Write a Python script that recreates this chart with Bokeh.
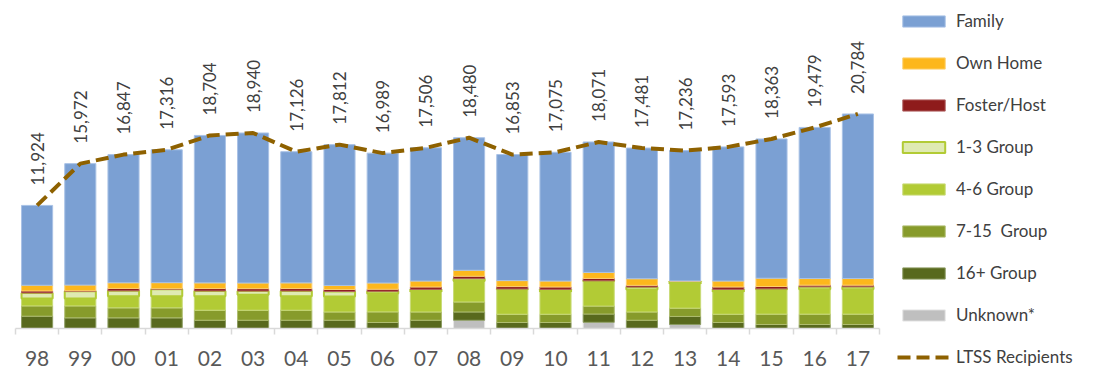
import math
from bokeh.plotting import figure
from bokeh.models import ColumnDataSource, Range1d, FixedTicker, Legend, LegendItem
from bokeh.core.properties import value
from bokeh.embed import file_html
from bokeh.resources import INLINE

years = ["98", "99", "00", "01", "02", "03", "04", "05", "06", "07",
         "08", "09", "10", "11", "12", "13", "14", "15", "16", "17"]
ltss = [11924, 15972, 16847, 17316, 18704, 18940, 17126, 17812, 16989, 17506,
        18480, 16853, 17075, 18071, 17481, 17236, 17593, 18363, 19479, 20784]
unknown = [0, 0, 0, 0, 0, 0, 0, 0, 0, 0, 800, 0, 0, 600, 0, 390, 0, 0, 0, 0]
g16 = [1190, 1030, 1030, 1030, 800, 800, 800, 800, 580, 800,
       800, 580, 580, 800, 800, 780, 580, 390, 390, 390]
g7_15 = [1000, 1160, 970, 970, 970, 970, 970, 800, 1030, 800,
         970, 800, 800, 770, 800, 800, 800, 1000, 1000, 1000]
g4_6 = [710, 710, 1130, 1130, 1350, 1510, 1350, 1510, 1770, 2000,
        2030, 2420, 2220, 2420, 2190, 2420, 2220, 2420, 2420, 2420]
g1_3 = [550, 710, 520, 680, 520, 350, 520, 480, 230, 190,
        230, 30, 190, 30, 230, 190, 190, 30, 230, 230]
foster = [190, 50, 230, 50, 230, 230, 230, 190, 190, 230,
          230, 230, 230, 230, 160, 0, 230, 230, 160, 160]
own = [550, 550, 550, 580, 550, 550, 550, 390, 610, 580,
       580, 580, 580, 580, 640, 30, 580, 800, 640, 640]

others = [a + b + c + d + e + f + g for a, b, c, d, e, f, g in
          zip(unknown, g16, g7_15, g4_6, g1_3, foster, own)]
family = [t - o for t, o in zip(ltss, others)]

xs = list(range(len(years)))
src = ColumnDataSource(dict(x=xs, unknown=unknown, g16=g16, g7_15=g7_15, g4_6=g4_6,
                            g1_3=g1_3, foster=foster, own=own, family=family,
                            ltss=ltss, lbl=[f"{v:,}" for v in ltss]))

stackers = ["unknown", "g16", "g7_15", "g4_6", "g1_3", "foster", "own", "family"]
names = ["Unknown*", "16+ Group", "7-15  Group", "4-6 Group", "1-3 Group",
         "Foster/Host", "Own Home", "Family"]
fills = ["#BFBFBF", "#58691D", "#879B2B", "#B2CB35", "#DFEAB2",
         "#8E1B1B", "#FDB71C", "#7BA0D3"]
lines = ["#E6E6E6", "#8A9A60", "#AFBD70", "#C9DB78", "#B2CB35",
         "#B06060", "#FDD070", "#A9C2E6"]
lws = [1, 1, 1, 1, 2, 1, 1, 1]

FONT = "Lato"

p = figure(frame_width=864, frame_height=320, output_backend="svg",
           toolbar_location=None,
           x_range=Range1d(-0.5, len(years) - 0.5), y_range=Range1d(0, 31000),
           min_border_left=15, min_border_right=0, min_border_top=8,
           min_border_bottom=10)

rs = p.vbar_stack(stackers, x="x", width=0.72, source=src,
                  fill_color=fills, line_color=lines, line_width=lws)

ln = p.line("x", "ltss", source=src, line_color="#8E6100", line_width=4,
            line_dash="13 6")

p.text(x="x", y="ltss", text="lbl", source=src, angle=math.pi / 2,
       text_align="left", text_baseline="middle", y_offset=-20,
       text_font=value(FONT), text_font_size="17px", text_color="#404040")

p.yaxis.visible = False
p.xgrid.visible = False
p.ygrid.visible = False
p.outline_line_color = None

ax = p.xaxis[0]
ax.ticker = FixedTicker(ticks=xs, minor_ticks=[i - 0.5 for i in range(len(years) + 1)])
ax.major_label_overrides = {i: y for i, y in enumerate(years)}
ax.axis_line_color = "#D9D9D9"
ax.axis_line_width = 1.5
ax.major_tick_line_color = None
ax.major_tick_out = 0
ax.major_tick_in = 0
ax.minor_tick_line_color = "#D9D9D9"
ax.minor_tick_line_width = 1.5
ax.minor_tick_out = 6
ax.minor_tick_in = 0
ax.major_label_standoff = 16
ax.major_label_text_font = FONT
ax.major_label_text_font_size = "21px"
ax.major_label_text_color = "#595959"

items = [LegendItem(label=n, renderers=[r]) for n, r in zip(names, rs)][::-1]
items.append(LegendItem(label="LTSS Recipients", renderers=[ln]))
leg = Legend(items=items, location=(18, -39), padding=0, margin=0, spacing=21,
             glyph_width=53, glyph_height=14, label_standoff=6, label_height=20,
             label_text_font=FONT, label_text_font_size="17px",
             label_text_color="#404040", border_line_color=None,
             background_fill_alpha=0)
p.add_layout(leg, "right")

open("out.html", "w").write(file_html(p, INLINE))
